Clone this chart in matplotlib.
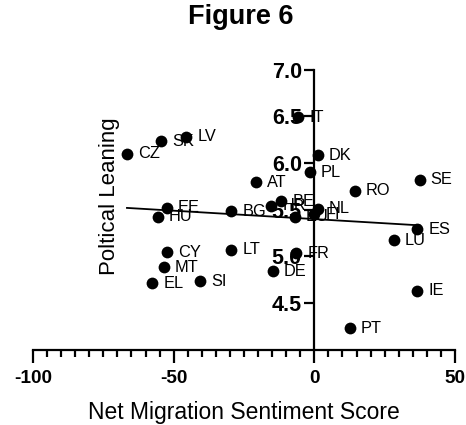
import numpy as np
import matplotlib
matplotlib.use("Agg")
import matplotlib.pyplot as plt
from matplotlib.ticker import MultipleLocator

plt.rcParams['font.family'] = ['Liberation Sans', 'DejaVu Sans']

countries = ["CZ", "SK", "LV", "EE", "HU", "CY", "MT", "EL", "SI", "LT", "BG",
             "AT", "HR", "BE", "IT", "DK", "PL", "RO", "SE", "NL", "EU", "FI",
             "ES", "LU", "FR", "DE", "IE", "PT"]
sentiment = [-66.6, -54.6, -45.5, -52.4, -55.6, -52.4, -53.6, -57.6, -40.5, -29.5, -29.5,
             -20.7, -15.3, -11.7, -5.8, 1.3, -1.7, 14.3, 37.4, 1.3, -7.0, 0.0,
             36.6, 28.3, -6.5, -14.7, 36.6, 12.6]
leaning = [6.10, 6.23, 6.28, 5.52, 5.42, 5.04, 4.88, 4.71, 4.73, 5.07, 5.48,
           5.79, 5.54, 5.59, 6.49, 6.08, 5.90, 5.70, 5.82, 5.51, 5.42, 5.45,
           5.29, 5.17, 5.03, 4.84, 4.63, 4.23]

x = np.array(sentiment)
y = np.array(leaning)

fig = plt.figure(figsize=(4.66, 4.25), dpi=100)
ax = fig.add_axes([33/466, 1-349.5/425, (455-33)/466, (349.5-69.5)/425])
ax.set_xlim(-100, 50)
ax.set_ylim(4.0, 7.0)

# regression line
slope, intercept = np.polyfit(x, y, 1)
xl = np.array([x.min(), x.max()])
ax.plot(xl, slope*xl + intercept, color='black', lw=1.3, zorder=2)

ax.scatter(x, y, s=72, color='black', zorder=3, linewidths=0)
for c, xi, yi in zip(countries, x, y):
    ax.annotate(c, (xi, yi), xytext=(8, 0), textcoords='offset points',
                ha='left', va='center', fontsize=11.8, color='black', zorder=4)

ax.spines['top'].set_visible(False)
ax.spines['right'].set_visible(False)
ax.spines['left'].set_position(('data', 0))
for s in ['left', 'bottom']:
    ax.spines[s].set_linewidth(1.6)

ax.set_xticks([-100, -50, 0, 50])
ax.set_xticklabels(['-100', '-50', '0', '50'])
ax.xaxis.set_minor_locator(MultipleLocator(5))
ax.set_yticks([4.5, 5.0, 5.5, 6.0, 6.5, 7.0])
ax.set_yticklabels(['4.5', '5.0', '5.5', '6.0', '6.5', '7.0'])

ax.tick_params(axis='x', which='major', length=9, width=1.6, labelsize=13.7, pad=6)
ax.tick_params(axis='x', which='minor', length=5, width=1.6)
ax.tick_params(axis='y', which='major', length=7, width=1.6, labelsize=15.5, pad=2)
for lab in ax.get_xticklabels() + ax.get_yticklabels():
    lab.set_fontweight('bold')

ax.set_xlabel('Net Migration Sentiment Score', fontsize=16.5, labelpad=10)
fig.text(110/466, 1-196/425, 'Poltical Leaning', rotation=90, fontsize=16,
         ha='center', va='center')
fig.text(241/466, 1-17/425, 'Figure 6', fontsize=19.5, fontweight='bold',
         ha='center', va='center')

fig.savefig('out.png', dpi=100)
